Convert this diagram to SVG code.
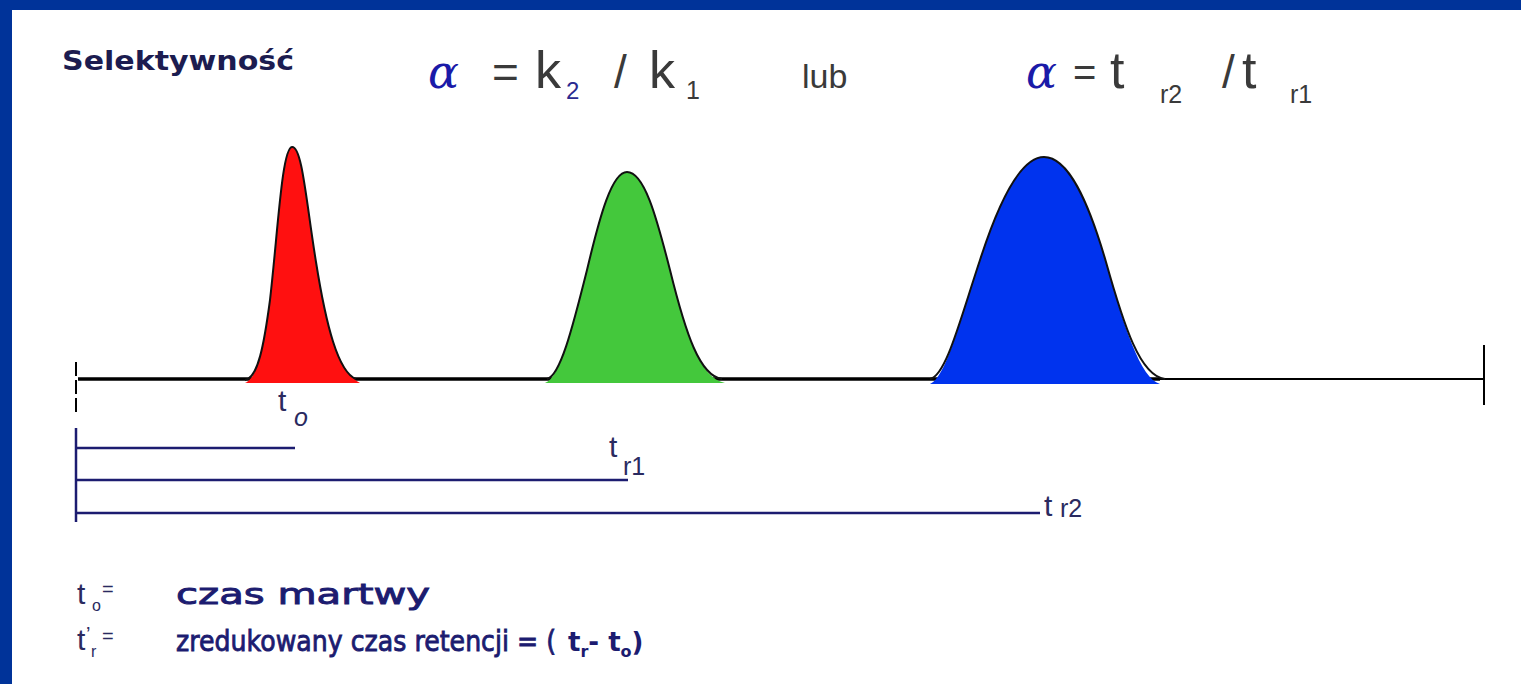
<svg xmlns="http://www.w3.org/2000/svg" width="1521" height="684" viewBox="0 0 1521 684">
<style>
.eq{font-family:"Liberation Sans",Arial,sans-serif;fill:#3a3a3a}
.alpha{font-family:"DejaVu Serif","Liberation Serif",serif;font-style:italic;fill:#1a1aa8;font-size:46px}
.sub{font-family:"Liberation Sans",Arial,sans-serif;fill:#3a3a3a;font-size:25px}
.lbl{font-family:"Liberation Sans",Arial,sans-serif;fill:#2a2a60;font-size:30px}
.lsub{font-family:"Liberation Sans",Arial,sans-serif;fill:#2a2a60;font-size:25px}
.bot{font-family:"DejaVu Sans",Verdana,sans-serif;fill:#1c1c70;stroke:#1c1c70;stroke-width:0.9;font-size:29px}
.botb{font-family:"DejaVu Sans",Verdana,sans-serif;fill:#1c1c70;font-weight:bold;font-size:26px}
.small{font-family:"Liberation Sans",Arial,sans-serif;fill:#2a2a60}
.scale{stroke:#1c1c70;stroke-width:2.5;fill:none}
.peakedge{fill:none;stroke:#111;stroke-width:2}
</style>
<rect x="0" y="0" width="1521" height="684" fill="#003399"/>
<rect x="12" y="10" width="1509" height="674" fill="#ffffff"/>

<g id="title">
<text x="62" y="70" font-family="DejaVu Sans,Verdana,sans-serif" font-weight="bold" font-size="26" fill="#1c1c50" textLength="232" lengthAdjust="spacingAndGlyphs">Selektywność</text>
</g>

<g id="formula1">
<text class="alpha" x="428" y="88">α</text>
<text class="eq" x="492" y="88" font-size="46">=</text>
<text class="eq" x="535" y="88" font-size="52">k</text>
<text x="566" y="99" font-family="Liberation Sans,Arial,sans-serif" font-size="24" fill="#2a2a90">2</text>
<text class="eq" x="614" y="88" font-size="46">/</text>
<text class="eq" x="649" y="88" font-size="52">k</text>
<text class="sub" x="686" y="99">1</text>
</g>

<g id="lub">
<text class="eq" x="802" y="88" font-size="34">lub</text>
</g>

<g id="formula2">
<text class="alpha" x="1026" y="88">α</text>
<text class="eq" x="1073" y="86" font-size="40">=</text>
<text class="eq" x="1110" y="88" font-size="52">t</text>
<text class="sub" x="1160" y="103">r2</text>
<text class="eq" x="1222" y="88" font-size="46">/</text>
<text class="eq" x="1242" y="88" font-size="52">t</text>
<text class="sub" x="1290" y="103">r1</text>
</g>

<g id="baseline">
<line x1="78" y1="379" x2="1160" y2="379" stroke="#000" stroke-width="3.5"/>
<line x1="1160" y1="379" x2="1484" y2="379" stroke="#000" stroke-width="2"/>
<line x1="76" y1="362" x2="76" y2="412" stroke="#000" stroke-width="2" stroke-dasharray="14,4"/>
<line x1="1484" y1="345" x2="1484" y2="405" stroke="#000" stroke-width="2"/>
</g>

<g id="peak-red">
<path d="M245,383 C258,378 264,345 270,300 C278,230 282,148 292,147 C302,146 306,200 316,262 C326,325 338,372 360,383 Z" fill="#ff1010"/>
<path class="peakedge" d="M245,380 C258,378 264,345 270,300 C278,230 282,148 292,147 C302,146 306,200 316,262 C326,325 338,372 356,379"/>
</g>

<g id="peak-green">
<path d="M545,383 C560,378 572,330 587,270 C600,215 612,172 627,172 C644,172 656,215 670,270 C686,335 700,378 725,383 Z" fill="#44c83c"/>
<path class="peakedge" d="M547,379 C560,376 572,330 587,270 C600,215 612,172 627,172 C644,172 656,215 670,270 C686,335 700,376 722,379"/>
</g>

<g id="peak-blue">
<path d="M930,384 C946,378 960,320 980,260 C1000,198 1022,157 1044,157 C1068,157 1088,200 1106,262 C1124,326 1140,378 1160,384 Z" fill="#0033ee"/>
<path class="peakedge" d="M930,379 C946,376 960,320 980,260 C1000,198 1022,157 1044,157 C1068,157 1088,200 1106,262 C1124,326 1140,376 1165,379"/>
</g>

<g id="connectors">
<line class="scale" x1="76" y1="428" x2="76" y2="522"/>
<line class="scale" x1="76" y1="448" x2="295" y2="448"/>
<line class="scale" x1="76" y1="480" x2="628" y2="480"/>
<line class="scale" x1="76" y1="513" x2="1040" y2="513"/>
</g>

<g id="label-t0">
<text class="lbl" x="278" y="411">t</text>
<text class="lsub" x="294" y="426" font-style="italic">o</text>
</g>
<g id="label-tr1">
<text class="lbl" x="609" y="457">t</text>
<text class="lsub" x="623" y="475">r1</text>
</g>
<g id="label-tr2">
<text class="lbl" x="1044" y="516">t</text>
<text class="lsub" x="1060" y="517">r2</text>
</g>

<g id="legend">
<text class="lbl" x="77" y="604">t</text>
<text class="small" x="92" y="611" font-size="16">o</text>
<text class="small" x="102" y="596" font-size="20">=</text>
<text class="bot" x="176" y="604" textLength="254" lengthAdjust="spacingAndGlyphs">czas martwy</text>
<text class="lbl" x="77" y="650">t</text>
<text class="small" x="86" y="641" font-size="20">’</text>
<text class="small" x="91" y="657" font-size="16">r</text>
<text class="small" x="102" y="643" font-size="20">=</text>
<text class="bot" x="176" y="651" textLength="380" lengthAdjust="spacingAndGlyphs">zredukowany czas retencji = (</text>
<text class="botb" x="568" y="651">t<tspan font-size="16" dy="6">r</tspan><tspan dy="-6">- t</tspan><tspan font-size="16" dy="6">o</tspan><tspan dy="-6">)</tspan></text>
</g>
</svg>
